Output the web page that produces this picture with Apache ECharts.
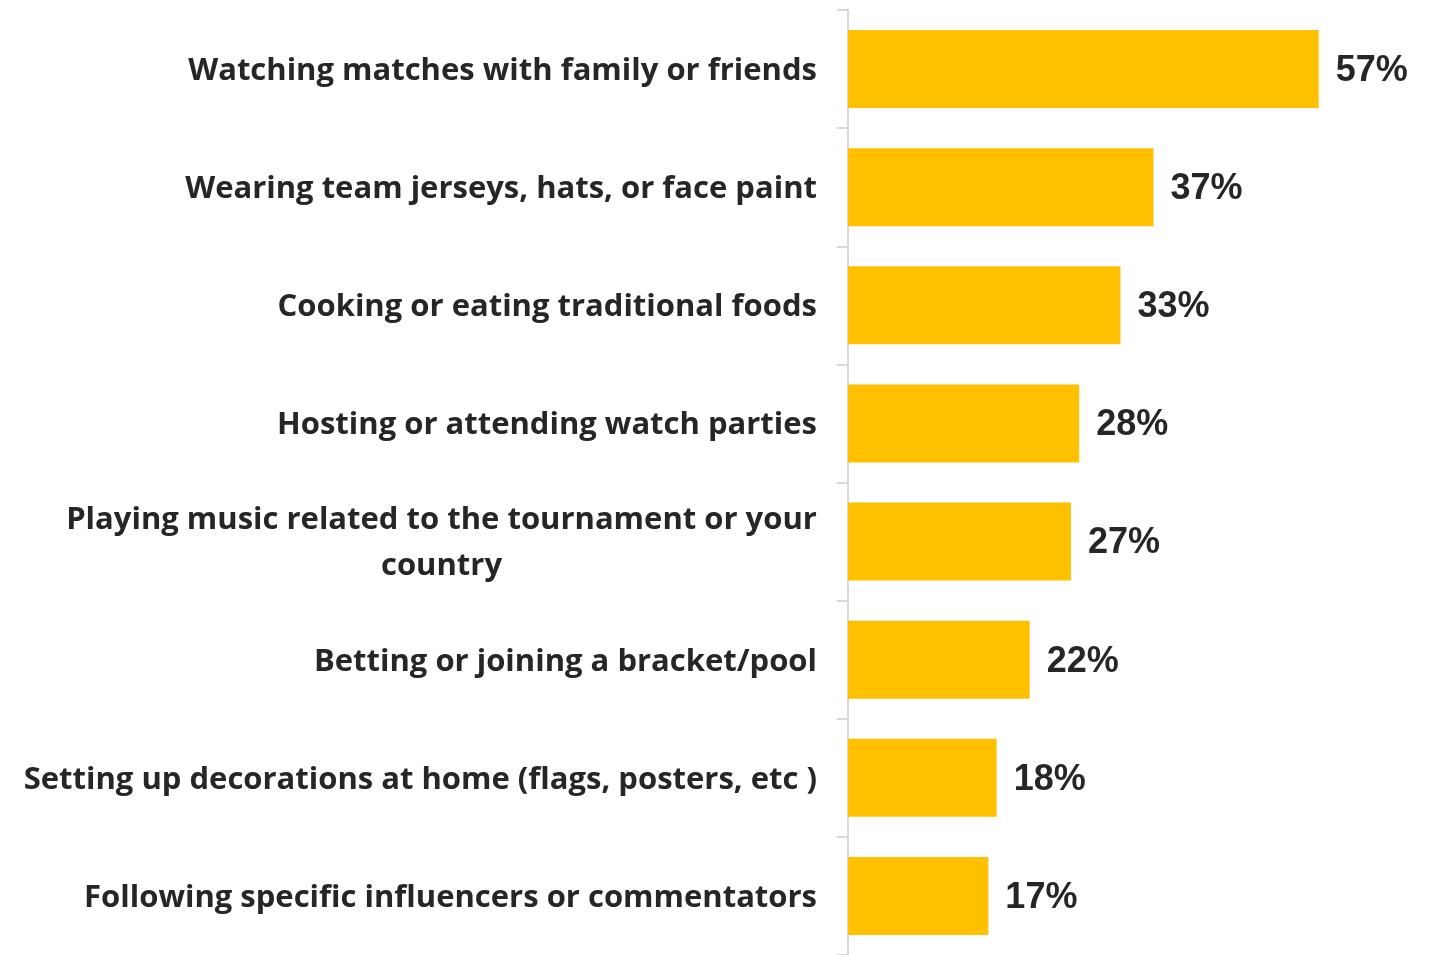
<!DOCTYPE html>
<html>
<head>
<meta charset="utf-8">
<script src="https://cdn.jsdelivr.net/npm/echarts@6/dist/echarts.min.js"></script>
<style>
  html, body { margin: 0; padding: 0; background: #fff; }
  #chart { width: 1444px; height: 955px; }
</style>
</head>
<body>
<div id="chart"></div>
<script>
const categories = [
  'Watching matches with family or friends',
  'Wearing team jerseys, hats, or face paint',
  'Cooking or eating traditional foods',
  'Hosting or attending watch parties',
  'Playing music related to the tournament or your\ncountry',
  'Betting or joining a bracket/pool',
  'Setting up decorations at home (flags, posters, etc )',
  'Following specific influencers or commentators'
];
const values = [57, 37, 33, 28, 27, 22, 18, 17];

const labelFamily = 'Open Sans';
const labelSize = 31;
const labelFont = 'bold ' + labelSize + 'px "' + labelFamily + '"';
function textWidth(s, font) {
  const c = document.createElement('canvas').getContext('2d');
  c.font = font;
  return c.measureText(s).width;
}
// widest line of the wrapped label, so its second line centres under the first
const wrapWidth = Math.ceil(Math.max(...categories[4].split('\n').map(l => textWidth(l, labelFont))));

const chart = echarts.init(document.getElementById('chart'));
chart.setOption({
  animation: false,
  grid: { left: 848, top: 10, bottom: 0, right: 18, containLabel: false },
  xAxis: {
    type: 'value', min: 0, max: 70, show: false
  },
  yAxis: {
    type: 'category',
    data: categories,
    inverse: true,
    axisLine: { show: true, lineStyle: { color: '#d9d9d9', width: 2 } },
    axisTick: { show: true, length: 11, lineStyle: { color: '#d9d9d9', width: 2 } },
    axisLabel: {
      margin: 31,
      padding: [4, 0, 0, 0],
      color: '#262626',
      fontFamily: labelFamily,
      fontWeight: 'bold',
      fontSize: labelSize,
      lineHeight: 46,
      formatter: function (v) {
        return v.indexOf('\n') >= 0 ? '{c|' + v + '}' : v;
      },
      rich: {
        c: {
          width: wrapWidth, align: 'center', color: '#262626',
          fontFamily: labelFamily, fontWeight: 'bold', fontSize: labelSize, lineHeight: 46
        }
      }
    }
  },
  series: [{
    type: 'bar',
    data: values,
    barWidth: 78,
    itemStyle: { color: '#FFC000' },
    label: {
      show: true,
      position: 'right',
      distance: 17,
      offset: [0, 2],
      formatter: '{c}%',
      color: '#262626',
      fontFamily: 'Liberation Sans, Arial',
      fontWeight: 'bold',
      fontSize: 36
    }
  }]
});
</script>
</body>
</html>
